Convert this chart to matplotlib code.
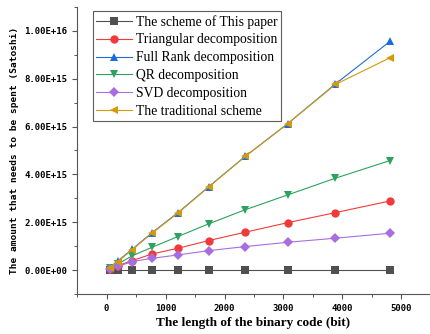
import matplotlib
matplotlib.use("Agg")
import matplotlib.pyplot as plt
from matplotlib.ticker import FixedLocator, MultipleLocator, FuncFormatter

# bit lengths of the binary code
bits = [50, 190, 430, 770, 1210, 1730, 2350, 3070, 3880, 4810]

# cost in Satoshi for each scheme
this_paper = [0.02e15, 0.02e15, 0.02e15, 0.02e15, 0.02e15, 0.02e15, 0.02e15, 0.02e15, 0.02e15, 0.02e15]
triangular = [0.05e15, 0.18e15, 0.39e15, 0.67e15, 0.91e15, 1.23e15, 1.58e15, 1.98e15, 2.40e15, 2.89e15]
full_rank = [0.10e15, 0.38e15, 0.86e15, 1.56e15, 2.40e15, 3.48e15, 4.75e15, 6.12e15, 7.78e15, 9.57e15]
qr = [0.07e15, 0.25e15, 0.59e15, 0.95e15, 1.40e15, 1.93e15, 2.52e15, 3.14e15, 3.84e15, 4.58e15]
svd = [0.05e15, 0.15e15, 0.35e15, 0.49e15, 0.63e15, 0.81e15, 0.98e15, 1.16e15, 1.33e15, 1.54e15]
traditional = [0.10e15, 0.35e15, 0.84e15, 1.54e15, 2.38e15, 3.47e15, 4.75e15, 6.12e15, 7.76e15, 8.88e15]

series = [
    ("The scheme of This paper", this_paper, "#505050", "s"),
    ("Triangular decomposition", triangular, "#f03a3a", "o"),
    ("Full Rank decomposition", full_rank, "#1e6be0", "^"),
    ("QR decomposition", qr, "#2ba35e", "v"),
    ("SVD decomposition", svd, "#a86ee0", "D"),
    ("The traditional scheme", traditional, "#d49a0c", "<"),
]

fig = plt.figure(figsize=(4.31, 3.34), dpi=100)
ax = fig.add_axes([0.179, 0.12, 0.818, 0.859])

for label, vals, color, marker in series:
    ms = 4.8 if marker == "D" else 6.0
    ax.plot(bits, vals, "-", color=color, lw=0.8, marker=marker, markersize=ms,
            markeredgewidth=0, label=label)

ax.set_xlim(-500, 5480)
ax.set_ylim(-1e15, 1.1e16)
ax.xaxis.set_major_locator(FixedLocator([0, 1000, 2000, 3000, 4000, 5000]))
ax.xaxis.set_minor_locator(MultipleLocator(500))
ax.yaxis.set_major_locator(FixedLocator([0, 2e15, 4e15, 6e15, 8e15, 1e16]))
ax.yaxis.set_minor_locator(MultipleLocator(1e15))
ax.yaxis.set_major_formatter(FuncFormatter(lambda v, p: f"{v:.2E}"))

for side in ("top", "right"):
    ax.spines[side].set_visible(False)
for side in ("left", "bottom"):
    ax.spines[side].set_color("#555555")
    ax.spines[side].set_linewidth(0.8)

ax.tick_params(which="major", direction="out", length=3.5, width=0.8, color="#555555")
ax.tick_params(which="minor", direction="out", length=2, width=0.7, color="#555555")
for lbl in ax.get_xticklabels() + ax.get_yticklabels():
    lbl.set_fontfamily("DejaVu Sans Mono")
    lbl.set_fontweight("bold")
    lbl.set_fontsize(6.5)

ax.set_xlabel("The length of the binary code (bit)", family="Liberation Serif",
              fontweight="bold", fontsize=9.5, labelpad=3)
ax.set_ylabel("The amount that needs to be spent (Satoshi)", family="DejaVu Sans Mono",
              fontweight="bold", fontsize=6.8, labelpad=4)

leg = ax.legend(loc="upper left", bbox_to_anchor=(0.045, 0.985), prop={"family": "Liberation Serif", "size": 9.8},
                frameon=True, fancybox=False, edgecolor="#333333", handlelength=2.6,
                borderpad=0.25, labelspacing=0.36, handletextpad=0.3, borderaxespad=0)
leg.get_frame().set_linewidth(0.8)

fig.savefig("out.png", dpi=100)
